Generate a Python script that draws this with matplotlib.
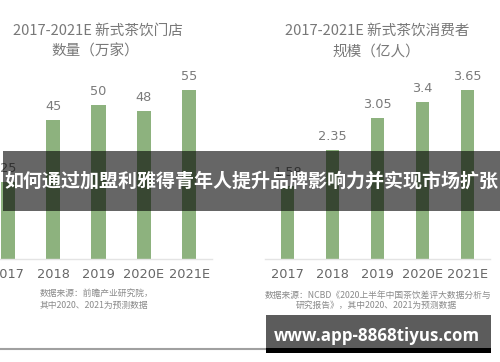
import numpy as np
import matplotlib
matplotlib.use('Agg')
import matplotlib.pyplot as plt
from matplotlib.patches import Rectangle
from matplotlib.lines import Line2D

plt.rcParams['font.family'] = ['Noto Sans CJK SC', 'DejaVu Sans']

years = ['2017', '2018', '2019', '2020E', '2021E']
stores = [25, 45, 50, 48, 55]          # 万家
consumers = [1.58, 2.35, 3.05, 3.4, 3.65]  # 亿人

bar_color = '#8db27e'
W, H = 500, 362


def fx(x):
    return x / W


def fy(y):
    return 1 - y / H


fig = plt.figure(figsize=(5, 3.62), dpi=100, facecolor='white')

base = 258.5
top = 80


def make_axes(x0, x1, vals, ymax, fmt):
    ax = fig.add_axes([fx(x0), fy(base), fx(x1 - x0), (base - top) / H])
    xs = np.arange(len(vals))
    ax.bar(xs, vals, width=0.31, color=bar_color)
    ax.set_xlim(-0.5, len(vals) - 0.5)
    ax.set_ylim(0, ymax)
    for s in ['top', 'right', 'left']:
        ax.spines[s].set_visible(False)
    ax.spines['bottom'].set_color('#e4e4e4')
    ax.spines['bottom'].set_linewidth(1)
    ax.set_yticks([])
    ax.set_xticks(xs)
    ax.set_xticklabels(years, fontsize=9.3, color='#666666', family=['DejaVu Sans'])
    ax.tick_params(axis='x', length=0, pad=6.5)
    ax.set_facecolor('none')
    for x, v in zip(xs, vals):
        ax.annotate(fmt(v), (x, v), xytext=(0, 5), textcoords='offset points',
                    ha='center', va='bottom', fontsize=9.3, color='#7a7a7a',
                    family=['DejaVu Sans'])
    return ax


make_axes(-15, 212, stores, (base - top) / 3.07, lambda v: f'{v:g}')
make_axes(265, 490, consumers, (base - top) / 46.15, lambda v: f'{v:g}')

# titles
title_kw = dict(fontsize=10.5, color='#787878', ha='center', va='center')
fig.text(fx(98), fy(31), '2017-2021E 新式茶饮门店', **title_kw)
fig.text(fx(95), fy(52), '数量（万家）', **title_kw)
fig.text(fx(377), fy(31), '2017-2021E 新式茶饮消费者', **title_kw)
fig.text(fx(376), fy(52), '规模（亿人）', **title_kw)

# source notes
note_kw = dict(fontsize=6.3, color='#8a8a8a', va='center')
fig.text(fx(40), fy(293), '数据来源：前瞻产业研究院，', ha='left', **note_kw)
fig.text(fx(40), fy(305), '其中2020、2021为预测数据', ha='left', **note_kw)
fig.text(fx(378), fy(295), '数据来源：NCBD《2020上半年中国茶饮差评大数据分析与', ha='center', **note_kw)
fig.text(fx(376), fy(305), '研究报告》，其中2020、2021为预测数据', ha='center', **note_kw)

# headline banner
fig.patches.append(Rectangle((fx(3), fy(211)), fx(497), (211 - 151) / H,
                             transform=fig.transFigure, facecolor='black',
                             alpha=0.6, edgecolor='none', zorder=5))
fig.text(fx(251), fy(181), '如何通过加盟利雅得青年人提升品牌影响力并实现市场扩张',
         fontsize=13.7, fontweight='bold', color='white', ha='center', va='center',
         zorder=6)

# bottom rule and url box
fig.lines.append(Line2D([0, fx(266)], [fy(349), fy(349)], transform=fig.transFigure,
                        color='#a0a0a0', linewidth=1.5, zorder=4))
fig.patches.append(Rectangle((fx(266), fy(348)), fx(225), 33 / H,
                             transform=fig.transFigure, facecolor='#5c5c5c',
                             edgecolor='none', zorder=5))
fig.patches.append(Rectangle((fx(266), fy(353)), fx(225), 5 / H,
                             transform=fig.transFigure, facecolor='black',
                             edgecolor='none', zorder=5))
fig.text(fx(377), fy(336), 'www.app-8868tiyus.com', fontsize=12.2, fontweight='bold',
         color='white', ha='center', va='center', family=['Open Sans', 'DejaVu Sans'],
         zorder=6)

fig.savefig('out.png', dpi=100, facecolor='white')
